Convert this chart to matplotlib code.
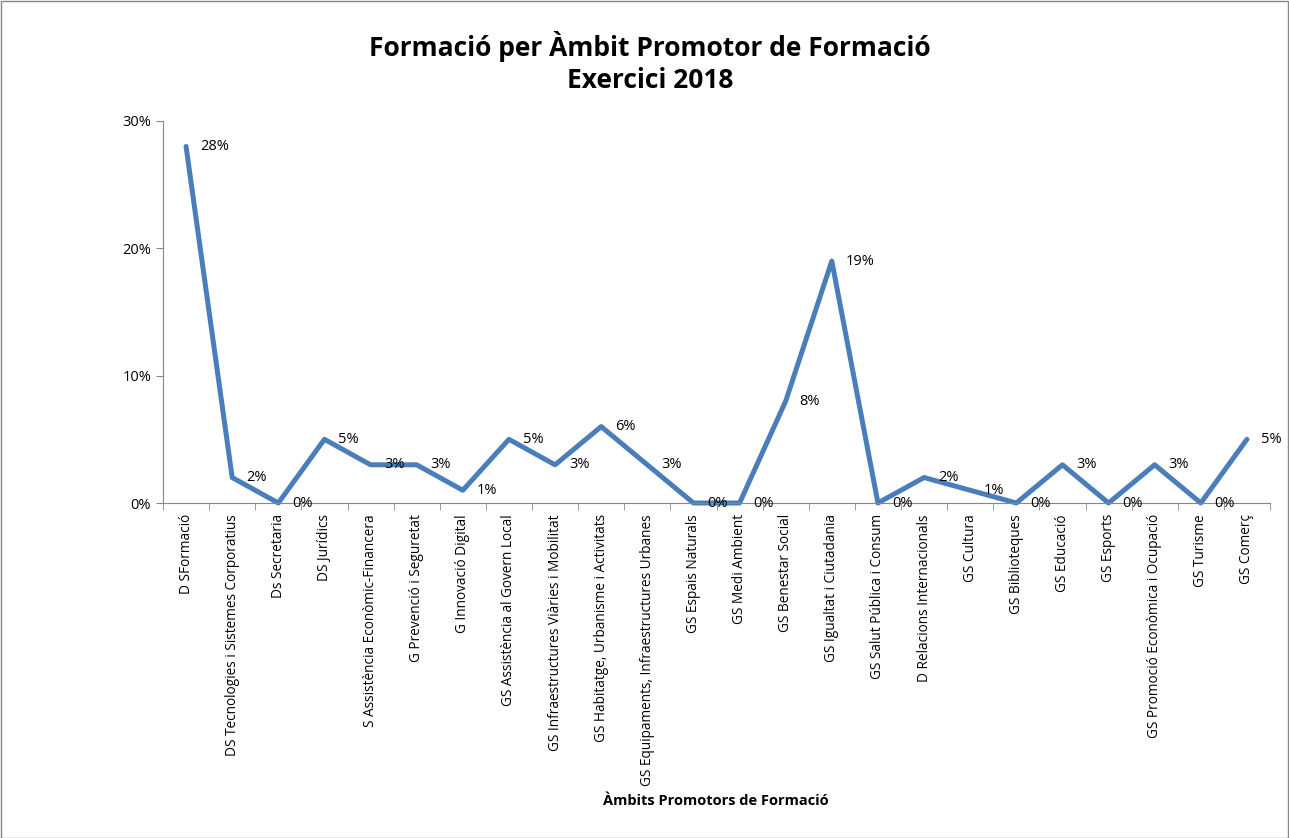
import numpy as np
import matplotlib.pyplot as plt
from matplotlib.patches import Rectangle
from matplotlib.ticker import FuncFormatter

plt.rcParams['font.family'] = ['Open Sans', 'DejaVu Sans']

categories = [
    "D SFormació",
    "DS Tecnologies i Sistemes Corporatius",
    "Ds Secretaria",
    "DS Jurídics",
    "S Assistència Econòmic-Financera",
    "G Prevenció i Seguretat",
    "G Innovació Digital",
    "GS Assistència al Govern Local",
    "GS Infraestructures Viàries i Mobilitat",
    "GS Habitatge, Urbanisme i Activitats",
    "GS Equipaments, Infraestructures Urbanes",
    "GS Espais Naturals",
    "GS Medi Ambient",
    "GS Benestar Social",
    "GS Igualtat i Ciutadania",
    "GS Salut Pública i Consum",
    "D Relacions Internacionals",
    "GS Cultura",
    "GS Biblioteques",
    "GS Educació",
    "GS Esports",
    "GS Promoció Econòmica i Ocupació",
    "GS Turisme",
    "GS Comerç",
]
values = [28, 2, 0, 5, 3, 3, 1, 5, 3, 6, 3, 0, 0, 8, 19, 0, 2, 1, 0, 3, 0, 3, 0, 5]
y_ticks = [0, 10, 20, 30]

W, H = 1289, 838
fig = plt.figure(figsize=(W / 100, H / 100), dpi=100)
ax = fig.add_axes([163 / W, 1 - 503 / H, (1270 - 163) / W, (503 - 121) / H])

x = np.arange(len(categories))
frac = np.array(values) / 100
ax.plot(x, frac, color="#4A7EBB", lw=3.6, solid_joinstyle="round", solid_capstyle="round", clip_on=False)

# etiquetes de dades a la dreta del punt
for xi, v in zip(x, values):
    ax.annotate(f"{v}%", (xi, v / 100), xytext=(10, 0), textcoords="offset points",
                ha="left", va="center", fontsize=10.5, color="black")

ax.set_xlim(-0.5, len(categories) - 0.5)
ax.set_ylim(0, 0.30)
ax.set_yticks([t / 100 for t in y_ticks])
ax.yaxis.set_major_formatter(FuncFormatter(lambda v, p: f"{v * 100:.0f}%"))

ax.set_xticks(x)
ax.set_xticklabels(categories, rotation=90, fontsize=9.8)
ax.set_xticks(np.arange(-0.5, len(categories)), minor=True)
ax.tick_params(axis="x", which="major", length=0, pad=8)
ax.tick_params(axis="x", which="minor", length=5, color="#868686", direction="out")
ax.tick_params(axis="y", length=5, color="#868686", labelsize=10.5, direction="out")

for s in ["top", "right"]:
    ax.spines[s].set_visible(False)
for s in ["left", "bottom"]:
    ax.spines[s].set_color("#868686")

fig.text(650 / W, 1 - 46 / H, "Formació per Àmbit Promotor de Formació", ha="center", va="center",
         fontsize=19, fontweight="bold")
fig.text(650 / W, 1 - 80 / H, "Exercici 2018", ha="center", va="center",
         fontsize=19, fontweight="bold")
fig.text(716 / W, 1 - 801 / H, "Àmbits Promotors de Formació", ha="center", va="center",
         fontsize=10.5, fontweight="bold")

fig.patches.append(Rectangle((0.5 / W, 0.5 / H), 1 - 1.5 / W, 1 - 1.5 / H, transform=fig.transFigure,
                             fill=False, edgecolor="#868686", lw=1))

fig.savefig("out.png", dpi=100)
